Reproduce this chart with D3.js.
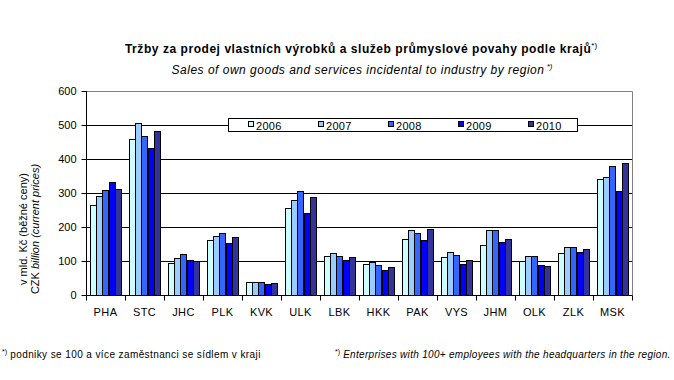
<!DOCTYPE html>
<html><head><meta charset="utf-8">
<script src="https://cdn.jsdelivr.net/npm/d3@7"></script>
<style>body{margin:0;background:#fff}svg{display:block;font-family:"Liberation Sans",Arial,sans-serif}</style>
</head><body><svg id="c" width="674" height="380"></svg>
<script>
const regions = ["PHA","STC","JHC","PLK","KVK","ULK","LBK","HKK","PAK","VYS","JHM","OLK","ZLK","MSK"];
const years = ["2006","2007","2008","2009","2010"];
const v2006 = [266,460,95,161,39,255,114,91,164,111,146,100,123,340];
const v2007 = [290,506,108,174,39,279,123,96,190,126,190,114,140,348];
const v2008 = [310,468,121,181,39,307,114,88,181,117,190,114,140,380];
const v2009 = [331,433,102,152,32,240,102,73,161,91,155,88,126,307];
const v2010 = [313,483,100,171,36,287,111,82,193,102,164,85,135,389];
const series = [v2006,v2007,v2008,v2009,v2010];
const colors = ["#CCFFFF","#99CCFF","#3366FF","#0000FF","#333399"];
const yTicks = [0,100,200,300,400,500,600];

const svg = d3.select("#c");
const L=86, R=632, T=91, B=295;
const x0 = d3.scaleBand().domain(regions).range([L,R]).paddingInner(0.19).paddingOuter(0.095);
const x1 = d3.scaleBand().domain(years).range([0,x0.bandwidth()]);
const y = d3.scaleLinear().domain([0,600]).range([B,T]);

// gridlines
svg.append("g").selectAll("line").data(yTicks.filter(d=>d>0&&d<600)).join("line")
  .attr("x1",L).attr("x2",R).attr("y1",d=>Math.round(y(d))+0.5).attr("y2",d=>Math.round(y(d))+0.5)
  .attr("stroke","#000").attr("stroke-width",1);
// plot border top/right gray
svg.append("path").attr("d",`M${L},${T+0.5}H${R+0.5}V${B}`).attr("fill","none").attr("stroke","#808080");

// bars
const g = svg.append("g");
regions.forEach((r,i)=>{
  series.forEach((s,j)=>{
    g.append("rect")
      .attr("x",Math.round(x0(r)+x1(years[j]))+0.5)
      .attr("y",Math.round(y(s[i]))+0.5)
      .attr("width",Math.round(x1.bandwidth()))
      .attr("height",Math.round(B-y(s[i])))
      .attr("fill",colors[j]).attr("stroke","#000").attr("stroke-width",1);
  });
});

// y axis
const ya = svg.append("g").attr("transform",`translate(${L+0.5},0)`)
  .call(d3.axisLeft(y).tickValues(yTicks).tickSize(5).tickPadding(5).tickFormat(d3.format("d")));
ya.select(".domain").attr("stroke","#000").attr("d",`M0,${T}V${B+0.5}`);
ya.selectAll(".tick line").attr("stroke","#000");
ya.selectAll("text").attr("font-size",11).attr("fill","#000").attr("font-family","Liberation Sans, Arial, sans-serif");

// x axis
const xa = svg.append("g").attr("transform",`translate(0,${B+0.5})`);
xa.append("line").attr("x1",L).attr("x2",R+0.5).attr("y1",0).attr("y2",0).attr("stroke","#000");
const bounds = d3.range(regions.length+1).map(i=>L+(R-L)*i/regions.length);
xa.selectAll("line.tk").data(bounds).join("line").attr("class","tk")
  .attr("x1",d=>Math.round(d)+0.5).attr("x2",d=>Math.round(d)+0.5).attr("y1",0).attr("y2",5).attr("stroke","#000");
xa.selectAll("text").data(regions).join("text")
  .attr("x",d=>x0(d)+x0.bandwidth()/2).attr("y",20).attr("text-anchor","middle")
  .attr("font-size",11).attr("letter-spacing",0.4).attr("fill","#000").text(d=>d);

// y label
const yl = svg.append("text").attr("transform","translate(0,229) rotate(-90)").attr("text-anchor","middle").attr("font-size",11);
yl.append("tspan").attr("x",0).attr("y",27).text("v mld. Kč (běžné ceny)");
const t2 = yl.append("tspan").attr("x",0).attr("y",39);
t2.text("CZK ");
yl.append("tspan").attr("font-style","italic").text("billion (current prices)");

// legend
const lg = svg.append("g");
lg.append("rect").attr("x",228.5).attr("y",118.5).attr("width",349).attr("height",13).attr("fill","#fff").attr("stroke","#000");
years.forEach((yr,j)=>{
  const lx = 248 + j*70;
  lg.append("rect").attr("x",lx+0.5).attr("y",121.5).attr("width",5).attr("height",5).attr("fill",colors[j]).attr("stroke","#000");
  lg.append("text").attr("x",lx+8).attr("y",129.5).attr("font-size",11).attr("letter-spacing",0.3).text(yr);
});

// titles
const t = svg.append("text").attr("x",361).attr("y",53).attr("text-anchor","middle").attr("font-size",12).attr("font-weight","bold").attr("letter-spacing",0.55);
t.append("tspan").text("Tržby za prodej vlastních výrobků a služeb průmyslové povahy podle krajů");
t.append("tspan").attr("font-size",8).attr("font-weight","normal").attr("dy",-5).attr("letter-spacing",0).text("*)");
const s = svg.append("text").attr("x",362).attr("y",74).attr("text-anchor","middle").attr("font-size",12).attr("font-style","italic").attr("letter-spacing",0.5);
s.append("tspan").text("Sales of own goods and services incidental to industry by region");
s.append("tspan").attr("font-size",8).attr("dy",-5).attr("letter-spacing",0).text(" *)");

// footnotes
const f1 = svg.append("text").attr("x",2).attr("y",358).attr("font-size",10).attr("letter-spacing",0.4);
f1.append("tspan").attr("font-size",7).attr("dy",-4).attr("letter-spacing",0).text("*)");
f1.append("tspan").attr("dy",4).text(" podniky se 100 a více zaměstnanci se sídlem v kraji");
const f2 = svg.append("text").attr("x",335).attr("y",358).attr("font-size",10).attr("letter-spacing",0.3);
f2.append("tspan").attr("font-size",7).attr("dy",-4).attr("letter-spacing",0).text("*)");
f2.append("tspan").attr("dy",4).attr("font-style","italic").text(" Enterprises with 100+ employees with the headquarters in the region.");
</script></body></html>
